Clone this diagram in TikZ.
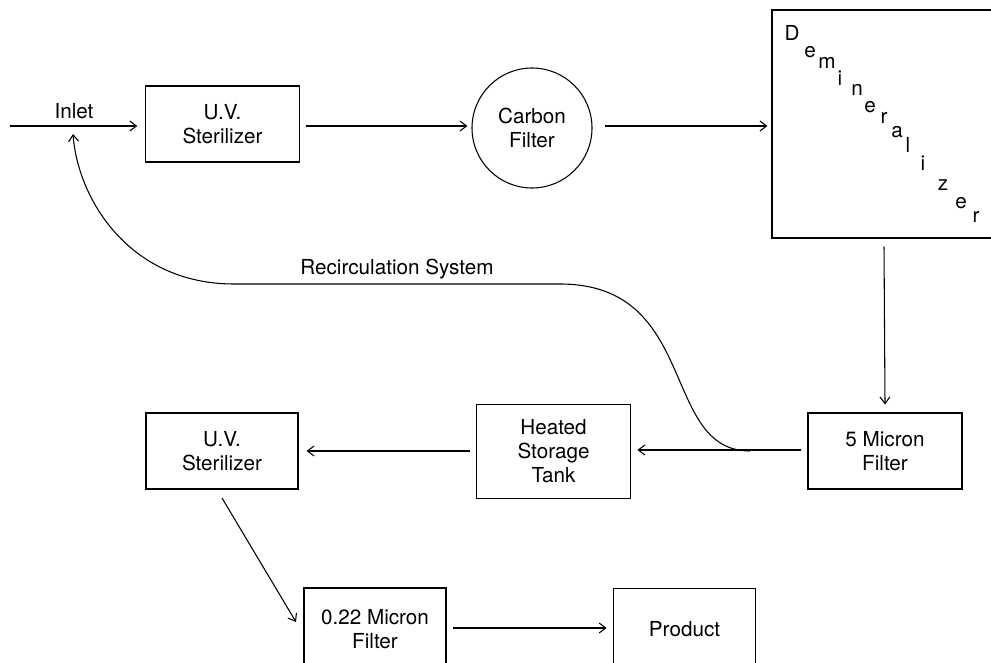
\documentclass[tikz,border=0pt]{standalone}
\usepackage{fontspec}
\setmainfont{TeX Gyre Heros}
\usetikzlibrary{arrows.meta}
\begin{document}
\begin{tikzpicture}[x=0.75pt,y=-0.75pt,
  every node/.style={font=\fontsize{15.5}{18}\selectfont},
  box/.style={draw,line width=0.8pt,align=center,inner sep=0pt},
  flow/.style={line width=0.8pt,-{Straight Barb[length=5pt,width=7.5pt,line width=0.8pt]}},
  letter/.style={inner sep=0pt}]
\useasboundingbox (0,0) rectangle (991,663);
\clip (0,0) rectangle (991,663);
% nodes
\node[box,minimum width=115pt,minimum height=57pt] (uv1) at (222.5,124) {U.V.\\Sterilizer};
\node[box,circle,minimum size=90pt] (carbon) at (532,128) {Carbon\\Filter};
\node[box,minimum width=168pt,minimum height=171pt] (demin) at (884,124) {};
\node[box,minimum width=115.5pt,minimum height=57pt] (micron5) at (885,451) {5 Micron\\Filter};
\node[box,minimum width=115pt,minimum height=70pt] (heated) at (553.5,451.5) {Heated\\Storage\\Tank};
\node[box,minimum width=114pt,minimum height=57pt] (uv2) at (222,451) {U.V.\\Sterilizer};
\node[box,minimum width=106.5pt,minimum height=61.5pt] (f022) at (375,629) {0.22 Micron\\Filter};
\node[box,minimum width=107pt,minimum height=61.5pt] (product) at (684.5,629.5) {Product};
% demineralizer letters
\node[letter] (d1) at (792,33) {D};
\node[letter] (d2) at (810,52) {e};
\node[letter] (d3) at (827,63) {m};
\node[letter] (d4) at (840,78) {i};
\node[letter] (d5) at (857,90) {n};
\node[letter] (d6) at (870,107) {e};
\node[letter] (d7) at (884,118) {r};
\node[letter] (d8) at (897,132) {a};
\node[letter] (d9) at (908,145) {l};
\node[letter] (d10) at (923,163) {i};
\node[letter] (d11) at (943,185) {z};
\node[letter] (d12) at (961,203) {e};
\node[letter] (d13) at (976,217) {r};
% labels
\node (inletlbl) at (74,111) {Inlet};
\node (reclbl) at (397,269) {Recirculation System};
% coordinates
\coordinate (inletstart) at (10,126);
\coordinate (inletjoin) at (73,134);
\coordinate (recstart) at (750,451);
% connectors
\draw[flow] (inletstart) -- ([xshift=-6pt]uv1.west |- inletstart);
\draw[flow] ([xshift=4.5pt]uv1.east |- inletstart) -- ([xshift=-3pt]carbon.west |- inletstart);
\draw[flow] ([xshift=9.5pt]carbon.east |- inletstart) -- ([xshift=-3pt]demin.west |- inletstart);
\draw[flow] ([yshift=-6pt]demin.south) -- ([yshift=6pt]micron5.north);
\draw[flow] ([xshift=-4.5pt]micron5.west |- 0,450) -- ([xshift=5pt]heated.east |- 0,450);
\draw[flow] ([xshift=-5pt]heated.west |- 0,451) -- ([xshift=6pt]uv2.east |- 0,451);
\draw[flow] (222,498) -- (296,622);
\draw[flow] ([xshift=5pt]f022.east |- 0,628) -- ([xshift=-4.5pt]product.west |- 0,628);
\draw[flow] (recstart) .. controls (660,451) and (700,284) .. (560,284) -- (234,284)
  .. controls (130,284) and (78,200) .. (inletjoin);
\end{tikzpicture}
\end{document}
